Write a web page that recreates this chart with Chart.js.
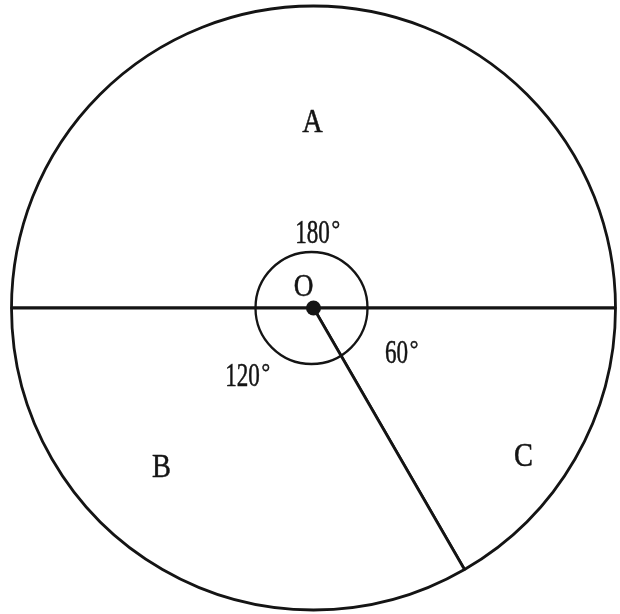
<!DOCTYPE html>
<html>
<head>
<meta charset="utf-8">
<script src="https://cdn.jsdelivr.net/npm/chart.js@4.4.1/dist/chart.umd.min.js"></script>
<style>
  html, body { margin: 0; padding: 0; background: #fff; }
  #wrap { width: 620px; height: 614px; }
</style>
</head>
<body>
<div id="wrap"><canvas id="sectores"></canvas></div>
<script>
// Sectors, clockwise from the left end of the diameter
const categories = ['A', 'C', 'B'];
const angles = [180, 60, 120];
const angleLabels = angles.map(a => a + '°');

// label offsets from the centre (px)
const letterPos = [[-1, -185], [210, 149], [-152, 160]];
const anglePos = [[4, -74], [88, 46], [-66, 69]];

const ink = '#141414';

function drawText(ctx, txt, x, y, size, sx) {
    ctx.save();
    ctx.translate(x, y);
    ctx.scale(sx, 1);
    ctx.font = size + 'px "Liberation Serif", "DejaVu Serif", serif';
    ctx.fillStyle = ink;
    ctx.strokeStyle = ink;
    ctx.lineWidth = 0.5;
    ctx.textAlign = 'center';
    ctx.textBaseline = 'middle';
    ctx.fillText(txt, 0, 0);
    ctx.strokeText(txt, 0, 0);
    ctx.restore();
}

const extras = {
    id: 'extras',
    afterDatasetsDraw(chart) {
        const ctx = chart.ctx;
        const arc = chart.getDatasetMeta(0).data[0];
        const cx = arc.x, cy = arc.y;

        // small angle circle
        ctx.save();
        ctx.strokeStyle = ink;
        ctx.lineWidth = 2.3;
        ctx.beginPath();
        ctx.arc(cx - 2, cy, 56, 0, Math.PI * 2);
        ctx.stroke();
        // centre dot
        ctx.fillStyle = ink;
        ctx.beginPath();
        ctx.arc(cx, cy, 7.5, 0, Math.PI * 2);
        ctx.fill();
        ctx.restore();

        categories.forEach((c, i) => {
            drawText(ctx, c, cx + letterPos[i][0], cy + letterPos[i][1], 33, 0.86);
        });
        drawText(ctx, 'O', cx - 10, cy - 20, 31, 0.88);

        angleLabels.forEach((t, i) => {
            const num = String(angles[i]);
            const x = cx + anglePos[i][0], y = cy + anglePos[i][1];
            const w = num.length * 11.5;
            drawText(ctx, num, x - 5, y, 33, 0.7);
            drawText(ctx, '°', x - 5 + w / 2 + 6, y - 3, 24, 0.9);
        });
    }
};

const ctx = document.getElementById('sectores');
new Chart(ctx, {
    type: 'pie',
    data: {
        labels: categories,
        datasets: [{
            data: angles,
            backgroundColor: '#ffffff',
            borderColor: ink,
            borderWidth: 2.8,
            hoverOffset: 0
        }]
    },
    options: {
        responsive: true,
        maintainAspectRatio: false,
        animation: false,
        rotation: -90,
        radius: 302,
        events: [],
        layout: { padding: { left: 7, right: 0, top: 2, bottom: 0 } },
        plugins: {
            legend: { display: false },
            tooltip: { enabled: false },
            title: { display: false }
        }
    },
    plugins: [extras]
});
</script>
</body>
</html>
